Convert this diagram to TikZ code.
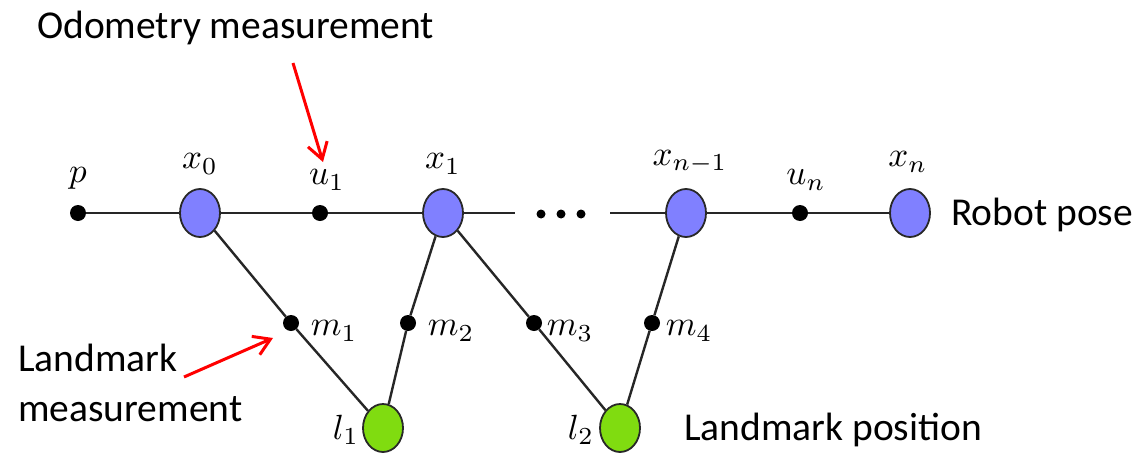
\documentclass[tikz,border=0pt]{standalone}
\usepackage{fontspec}
\setmainfont{Carlito}
\usetikzlibrary{arrows.meta,shapes.geometric}
\definecolor{poseblue}{RGB}{128,128,255}
\definecolor{lmgreen}{RGB}{128,220,16}
\definecolor{edgegray}{RGB}{40,40,40}
\newcommand{\mylabelmath}[1]{\scalebox{3.5}{$#1$}}
\tikzset{
  pose/.style={ellipse, draw=edgegray, line width=1.8pt, fill=poseblue, minimum width=40pt, minimum height=48pt, inner sep=0pt},
  lmark/.style={ellipse, draw=edgegray, line width=1.8pt, fill=lmgreen, minimum width=40pt, minimum height=48pt, inner sep=0pt},
  fdot/.style={circle, fill=black, minimum size=16pt, inner sep=0pt},
  edot/.style={circle, fill=black, minimum size=9pt, inner sep=0pt},
  mlab/.style={inner sep=0pt},
  txt/.style={font=\fontsize{39.5}{46}\selectfont, inner sep=0pt, align=left},
  conn/.style={line width=2.4pt, draw=black!85},
  redarrow/.style={draw=red, line width=3pt, -{Straight Barb[length=16pt,width=20pt,line width=3pt]}},
}
\begin{document}
\begin{tikzpicture}[x=1pt,y=-1pt]
\useasboundingbox (0,0) rectangle (1139,455);
\fill[white] (0,0) rectangle (1139,455);
\coordinate (d1) at (515,213);
\coordinate (d2) at (610,213);
\node[fdot] (p) at (78,213) {};
\node[fdot] (u1) at (320,213) {};
\node[fdot] (un) at (800,213) {};
\node[fdot] (m1) at (291,323) {};
\node[fdot] (m2) at (408,323) {};
\node[fdot] (m3) at (534,323) {};
\node[fdot] (m4) at (652,323) {};
\node[pose] (x0) at (200,213) {};
\node[pose] (x1) at (443,213) {};
\node[pose] (xn1) at (686,213) {};
\node[pose] (xn) at (910,213) {};
\node[lmark] (l1) at (383,428) {};
\node[lmark] (l2) at (620,428) {};
\draw[conn] (p) -- (x0);
\draw[conn] (x0) -- (u1);
\draw[conn] (u1) -- (x1);
\draw[conn] (x1) -- (d1);
\draw[conn] (d2) -- (xn1);
\draw[conn] (xn1) -- (un);
\draw[conn] (un) -- (xn);
\draw[conn] (x0) -- (m1);
\draw[conn] (m1) -- (l1);
\draw[conn] (x1) -- (m2);
\draw[conn] (m2) -- (l1);
\draw[conn] (x1) -- (m3);
\draw[conn] (m3) -- (l2);
\draw[conn] (xn1) -- (m4);
\draw[conn] (m4) -- (l2);
% ellipsis dots
\node[edot] (e1) at (541,214) {};
\node[edot] (e2) at (561,214) {};
\node[edot] (e3) at (581,214) {};
% math labels
\node[mlab] (lp) at (78,178) {\mylabelmath{p}};
\node[mlab] (lx0) at (200,164) {\mylabelmath{x_0}};
\node[mlab] (lu1) at (327,180) {\mylabelmath{u_1}};
\node[mlab] (lx1) at (443,164) {\mylabelmath{x_1}};
\node[mlab] (lxn1) at (690,162) {\mylabelmath{x_{n-1}}};
\node[mlab] (lun) at (806,180) {\mylabelmath{u_n}};
\node[mlab] (lxn) at (908,162) {\mylabelmath{x_n}};
\node[mlab] (lm1) at (334,331) {\mylabelmath{m_1}};
\node[mlab] (lm2) at (451,331) {\mylabelmath{m_2}};
\node[mlab] (lm3) at (570,331) {\mylabelmath{m_3}};
\node[mlab] (lm4) at (689,331) {\mylabelmath{m_4}};
\node[mlab] (ll1) at (346,430) {\mylabelmath{l_1}};
\node[mlab] (ll2) at (581,430) {\mylabelmath{l_2}};
% text labels
\node[txt, anchor=west] (odo) at (37,28) {Odometry measurement};
\node[txt, anchor=west] (rp) at (951,215) {Robot pose};
\node[txt, anchor=west] (lp2) at (684,430) {Landmark position};
\node[txt, anchor=west] (lm) at (18,383) {Landmark\\[4pt]measurement};
% red arrows
\coordinate (a1s) at (293,63);
\coordinate (a1e) at (323,162);
\coordinate (a2s) at (184,377);
\coordinate (a2e) at (273,338);
\draw[redarrow] (a1s) -- (a1e);
\draw[redarrow] (a2s) -- (a2e);
\end{tikzpicture}
\end{document}
